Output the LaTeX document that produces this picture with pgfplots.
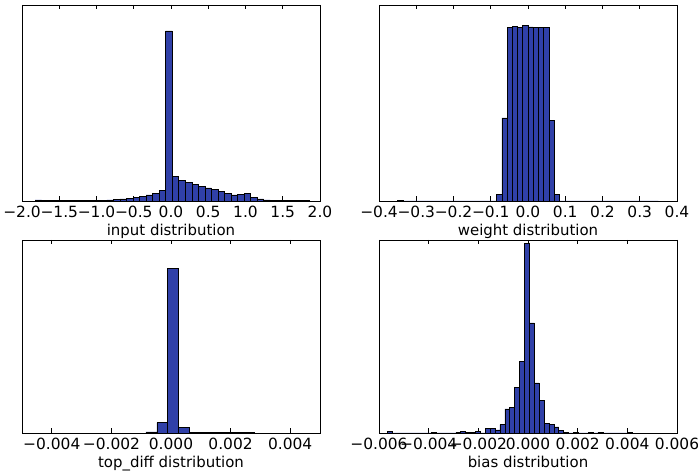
\documentclass[border=0pt]{standalone}
\usepackage{fontspec}
\setmainfont{DejaVu Sans}
\usepackage{pgfplots}
\pgfplotsset{compat=1.18}
\definecolor{histblue}{RGB}{48,64,168}
\pgfplotsset{
  histax/.style={
    scale only axis, width=298bp,
    axis line style={line width=0.8bp, black},
    ytick=\empty, ymin=0,
    xtick pos=both, tick align=inside, major tick length=4.5bp,
    every tick/.style={black, line width=0.7bp},
    scaled x ticks=false,
    clip=true,
    tick label style={font=\fontsize{15.5}{18}\selectfont},
    xticklabel style={font=\fontsize{15.5}{18}\selectfont, anchor=base, yshift=-17bp, inner sep=0pt},
    xlabel style={font=\fontsize{15}{18}\selectfont, at={(axis description cs:0.5,0)}, anchor=base, yshift=-35bp, inner sep=0pt},
  },
  histbar/.style={ybar interval, fill=histblue, draw=black, line width=0.6bp},
}
\begin{document}
\begin{tikzpicture}
\useasboundingbox (0,0) rectangle (698bp,476bp);
% ---------- input distribution ----------
\begin{axis}[histax, at={(22bp,275bp)}, anchor=south west, height=196bp,
  xmin=-2, xmax=2, ymax=196,
  xtick={-2,-1.5,-1,-0.5,0,0.5,1,1.5,2},
  xticklabels={−2.0,−1.5,−1.0,−0.5,0.0,0.5,1.0,1.5,2.0},
  xlabel={input distribution}]
\addplot[histbar] coordinates {
(-1.825,1) (-1.7373,0.3) (-1.6496,0.2) (-1.5619,0.2) (-1.4742,0.2) (-1.3865,0.2)
(-1.2988,0.3) (-1.2111,0.3) (-1.1234,0.4) (-1.0357,0.5) (-0.948,0.7) (-0.8603,1)
(-0.7726,1.3) (-0.6849,2) (-0.5972,2.7) (-0.5095,3.7) (-0.4218,4.7) (-0.3341,6)
(-0.2464,7.3) (-0.1587,10.7) (-0.071,170) (0.0167,24.3) (0.1044,20.7) (0.1921,18.3)
(0.2798,16.3) (0.3675,14.3) (0.4552,13) (0.5429,11.3) (0.6306,9.7) (0.7183,7.3)
(0.806,6) (0.8937,6.3) (0.9814,7.7) (1.0691,3.3) (1.1568,2) (1.2445,1)
(1.3322,0.5) (1.4199,0.3) (1.5076,0.2) (1.5953,0.2) (1.683,0.2) (1.7707,0.2)
(1.8584,0)};
\end{axis}
% ---------- weight distribution ----------
\begin{axis}[histax, at={(379bp,275bp)}, anchor=south west, height=196bp,
  xmin=-0.4, xmax=0.4, ymax=196,
  xtick={-0.4,-0.3,-0.2,-0.1,0,0.1,0.2,0.3,0.4},
  xticklabels={−0.4,−0.3,−0.2,−0.1,0.0,0.1,0.2,0.3,0.4},
  xlabel={weight distribution}]
\addplot[histbar] coordinates {
(-0.35,0.7) (-0.336,0) (-0.322,0) (-0.308,0) (-0.294,0) (-0.28,0) (-0.266,0)
(-0.252,0) (-0.238,0) (-0.224,0) (-0.21,0) (-0.196,0) (-0.182,0) (-0.168,0)
(-0.154,0) (-0.14,0) (-0.126,0) (-0.112,0) (-0.098,0) (-0.084,6.8) (-0.07,83)
(-0.056,173.7) (-0.042,174.3) (-0.028,173.7) (-0.014,175.5) (0,174) (0.014,173.7)
(0.028,173.7) (0.042,173.7) (0.056,80.3) (0.07,6.8) (0.084,0) (0.098,0) (0.112,0)
(0.126,0) (0.14,0) (0.154,0) (0.168,0) (0.182,0) (0.196,0) (0.21,0) (0.224,0)
(0.238,0) (0.252,0) (0.266,0) (0.28,0) (0.294,0) (0.308,0) (0.322,0) (0.336,0)
(0.35,0)};
\end{axis}
% ---------- top_diff distribution ----------
\begin{axis}[histax, at={(22bp,43bp)}, anchor=south west, height=193bp,
  xmin=-0.005, xmax=0.005, ymax=193,
  xtick={-0.004,-0.002,0,0.002,0.004},
  xticklabels={−0.004,−0.002,0.000,0.002,0.004},
  xlabel={top\_diff distribution}]
\addplot[histbar] coordinates {
(-0.00084,1) (-0.000475,10.3) (-0.00011,164.3) (0.000255,5.3) (0.00062,0.7)
(0.000985,0.2) (0.00135,0.2) (0.001715,0.2) (0.00208,0.2) (0.002445,0.2)
(0.00281,0)};
\end{axis}
% ---------- bias distribution ----------
\begin{axis}[histax, at={(379bp,43bp)}, anchor=south west, height=193bp,
  xmin=-0.006, xmax=0.006, ymax=193,
  xtick={-0.006,-0.004,-0.002,0,0.002,0.004,0.006},
  xticklabels={−0.006,−0.004,−0.002,0.000,0.002,0.004,0.006},
  xlabel={bias distribution}]
\addplot[histbar] coordinates {
(-0.005670,1.3) (-0.005473,0) (-0.005275,0) (-0.005078,0) (-0.004880,0)
(-0.004683,0) (-0.004486,0) (-0.004288,0) (-0.004091,0) (-0.003893,0.6)
(-0.003696,0) (-0.003499,0) (-0.003301,0) (-0.003104,0) (-0.002906,0.5)
(-0.002709,1.3) (-0.002512,0.7) (-0.002314,0.5) (-0.002117,1.8) (-0.001919,0)
(-0.001722,4.3) (-0.001525,4.3) (-0.001327,3) (-0.001130,8.3) (-0.000932,24)
(-0.000735,25.7) (-0.000538,45.5) (-0.000340,71.5) (-0.000143,189.3) (0.000055,110)
(0.000252,50) (0.000449,32.8) (0.000647,9.3) (0.000844,8.5) (0.001042,6)
(0.001239,2.8) (0.001436,0.3) (0.001634,0) (0.001831,0.5) (0.002029,0)
(0.002226,0) (0.002423,0.5) (0.002621,0) (0.002818,0.5) (0.003016,0)
(0.003213,0) (0.003410,0) (0.003608,0) (0.003805,0) (0.004003,0.7)
(0.004200,0)};
\end{axis}
\end{tikzpicture}
\end{document}
